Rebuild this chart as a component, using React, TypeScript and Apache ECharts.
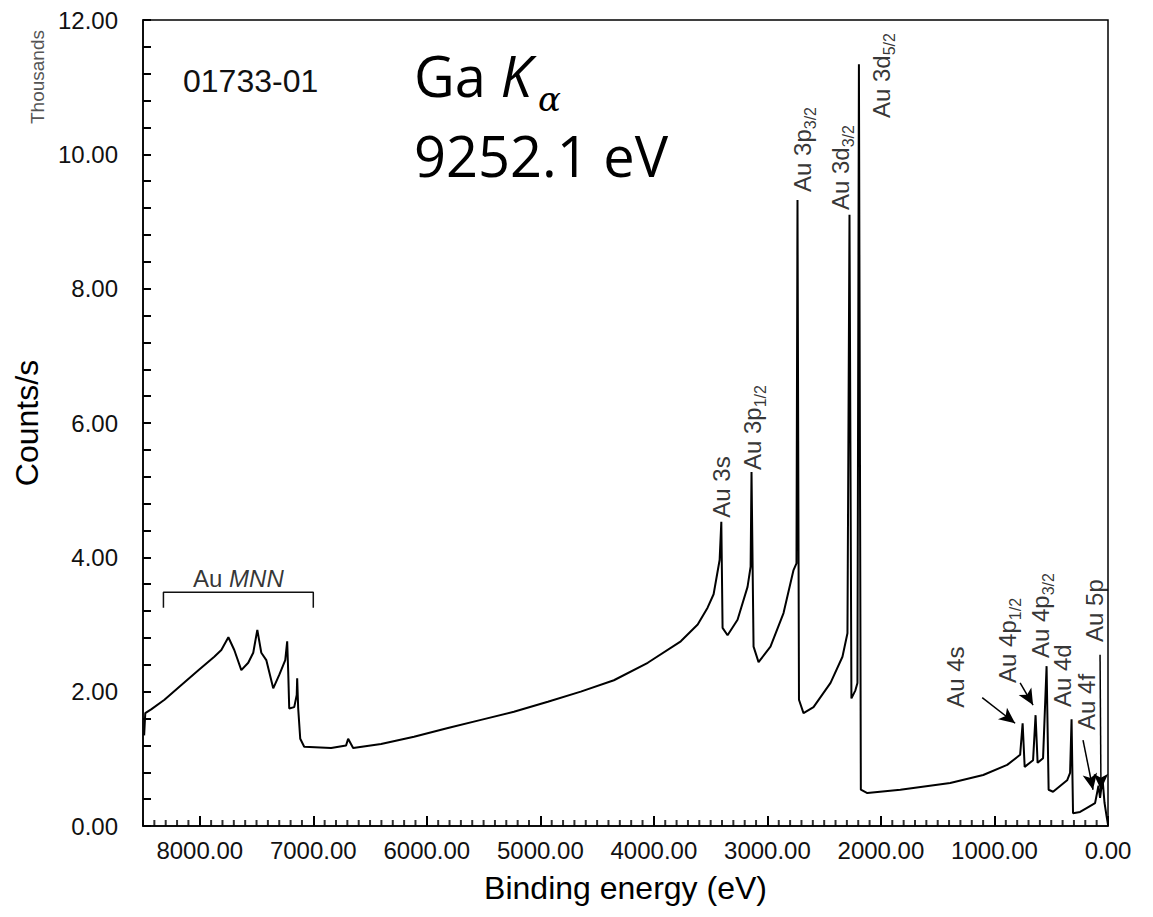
import React, { useEffect, useRef } from 'react';
import * as echarts from 'echarts';

// Binding energy (eV) and intensity (thousands of counts/s)
const energy = [
  8490, 8480, 8425, 8311, 8162, 8012, 7872, 7810, 7748, 7696,
  7634, 7573, 7529, 7493, 7458, 7414, 7353, 7300, 7247, 7230,
  7221, 7212, 7168, 7146, 7142, 7133, 7115, 7080, 6843, 6711,
  6693, 6649, 6403, 6113, 5814, 5523, 5233, 4934, 4644, 4352,
  4054, 3763, 3614, 3527, 3474, 3421, 3406, 3395, 3351, 3263,
  3175, 3148, 3140, 3122, 3078, 2973, 2858, 2770, 2744, 2735,
  2722, 2682, 2594, 2444, 2339, 2295, 2277, 2260, 2225, 2207,
  2194, 2177, 2120, 1829, 1390, 1099, 888, 774, 752, 734,
  660, 638, 620, 572, 541, 523, 484, 360, 334, 321,
  308, 246, 185, 114, 84, 70, 48, 31, 13, 0,
];
const counts = [
  1.35, 1.68, 1.74, 1.88, 2.10, 2.32, 2.52, 2.62, 2.81, 2.62,
  2.32, 2.43, 2.58, 2.92, 2.58, 2.47, 2.05, 2.25, 2.47, 2.75,
  2.30, 1.75, 1.77, 1.95, 2.20, 1.75, 1.30, 1.18, 1.16, 1.20,
  1.30, 1.16, 1.22, 1.33, 1.46, 1.58, 1.70, 1.85, 2.00, 2.17,
  2.43, 2.75, 3.00, 3.25, 3.45, 3.96, 4.53, 2.95, 2.84, 3.07,
  3.56, 3.86, 5.27, 2.67, 2.44, 2.67, 3.17, 3.81, 3.91, 9.32,
  1.88, 1.68, 1.77, 2.13, 2.52, 2.87, 9.10, 1.90, 2.02, 2.13,
  11.34, 0.54, 0.49, 0.54, 0.64, 0.76, 0.91, 1.06, 1.53, 0.88,
  0.98, 1.65, 0.94, 1.01, 2.38, 0.54, 0.51, 0.68, 0.79, 1.59,
  0.19, 0.21, 0.27, 0.34, 0.60, 0.42, 0.70, 0.35, 0.15, 0.02,
];

// Peak labels
const peakNames = ['Au 3s', 'Au 3p', 'Au 3p', 'Au 3d', 'Au 3d', 'Au 4s', 'Au 4p', 'Au 4p', 'Au 4d', 'Au 4f', 'Au 5p'];
const peakSubs = ['', '1/2', '3/2', '3/2', '5/2', '', '1/2', '3/2', '', '', ''];
const peakLabelX = [3404, 3131, 2691, 2357, 1996, 1346, 888, 598, 405, 193, 123];
const peakLabelY = [4.59, 5.30, 9.44, 9.17, 10.54, 1.76, 2.13, 2.50, 1.77, 1.43, 2.74];

// Leader arrows (start -> end)
const arrowFromX = [1108, 774, 220, 70];
const arrowFromY = [1.91, 2.13, 1.28, 2.55];
const arrowToX = [818, 660, 132, 62];
const arrowToY = [1.53, 1.80, 0.54, 0.54];

// Au MNN bracket
const mnnBracketX = [8320, 8320, 7000, 7000];
const mnnBracketY = [3.25, 3.48, 3.48, 3.25];
const mnnLabelPos = [7660, 3.69];

// Axis scales
const xMax = 8500;
const xMajor = 1000;
const xMinor = 100;
const yMax = 12;
const yMajor = 2;

const FONT = '"Liberation Sans", Arial, sans-serif';

function steps(max: number, step: number) {
  const out: number[] = [];
  const n = Math.round(max / step);
  for (let i = 0; i <= n; i++) out.push(+(i * step).toFixed(6));
  return out;
}

export default function App() {
  const ref = useRef<HTMLDivElement>(null);
  useEffect(() => {
    if (!ref.current) return;
    const chart = echarts.init(ref.current, null, { renderer: 'svg' });
    const spectrum = energy.map((e, i) => [e, counts[i]]);
    const labelData = peakNames.map((n, i) => ({
      value: [peakLabelX[i], peakLabelY[i]],
      label: {
        formatter: peakSubs[i] ? `{m|${n}}{s|${peakSubs[i]}}` : `{m|${n}}`,
      },
    }));
    const arrows = arrowFromX.map((_, i) => [
      { coord: [arrowFromX[i], arrowFromY[i]], symbol: 'none' },
      { coord: [arrowToX[i], arrowToY[i]], symbol: 'arrow' },
    ]);
    // minor ticks of the energy axis, every 100 eV, placed on the axis' own scale
    const xMinorTicks = steps(xMax, xMinor)
      .filter((v) => Math.round(v) % xMajor !== 0)
      .map((v) => [v, 0]);

    const option: any = {
      animation: false,
      backgroundColor: '#fff',
      grid: {
        left: 143, right: 45, top: 20, bottom: 91,
        show: true, borderColor: '#000', borderWidth: 1.5, backgroundColor: 'transparent',
      },
      xAxis: [{
        type: 'value', min: 0, max: xMax, interval: xMajor, inverse: true, position: 'bottom',
        name: 'Binding energy (eV)', nameLocation: 'middle', nameGap: 46,
        nameTextStyle: { fontSize: 32, color: '#000', fontFamily: FONT },
        axisLine: { show: true, onZero: false, lineStyle: { color: '#000', width: 1.5 } },
        axisTick: { show: true, inside: true, length: 10, lineStyle: { color: '#000', width: 2 } },
        axisLabel: {
          formatter: (v: number) => v.toFixed(2), showMaxLabel: false,
          fontSize: 24, color: '#111', margin: 12, fontFamily: FONT,
        },
        splitLine: { show: false },
      }],
      yAxis: [{
        type: 'value', min: 0, max: yMax, interval: yMajor, position: 'left',
        name: 'Counts/s', nameLocation: 'middle', nameGap: 100, nameRotate: 90,
        nameTextStyle: { fontSize: 32, color: '#000', fontFamily: FONT },
        axisLine: { show: true, onZero: false, lineStyle: { color: '#000', width: 1.5 } },
        axisTick: { show: true, inside: true, length: 8, lineStyle: { color: '#000', width: 2 } },
        minorTick: { show: true, splitNumber: 5, length: 8, lineStyle: { color: '#000', width: 2 } },
        axisLabel: {
          formatter: (v: number) => v.toFixed(2),
          fontSize: 24, color: '#111', margin: 25, fontFamily: FONT,
        },
        splitLine: { show: false },
      }],
      series: [
        {
          type: 'line', data: spectrum, showSymbol: false, symbol: 'none',
          lineStyle: { color: '#000', width: 2 },
          markLine: {
            silent: true, symbolSize: [11, 16],
            lineStyle: { color: '#000', width: 1.5, type: 'solid' },
            itemStyle: { color: '#000' },
            label: { show: false },
            data: arrows,
          },
        },
        {
          type: 'line', data: mnnBracketX.map((x, i) => [x, mnnBracketY[i]]),
          symbol: 'none', lineStyle: { color: '#111', width: 1.5 },
        },
        {
          type: 'scatter', data: xMinorTicks, symbol: 'rect', symbolSize: [2, 6], symbolOffset: [0, -3],
          silent: true, itemStyle: { color: '#000' },
        },
        {
          type: 'scatter', data: labelData, symbolSize: 1,
          itemStyle: { color: 'transparent' },
          label: {
            show: true, position: 'inside', rotate: 90, align: 'left', verticalAlign: 'middle',
            color: '#000',
            rich: {
              m: { fontSize: 24, lineHeight: 32, fontFamily: FONT, color: '#000' },
              s: { fontSize: 16, lineHeight: 16, fontFamily: FONT, color: '#000', verticalAlign: 'bottom' },
            },
          },
        },
        {
          type: 'scatter', data: [{ value: mnnLabelPos }], symbolSize: 1,
          itemStyle: { color: 'transparent' },
          label: {
            show: true, position: 'inside', formatter: '{a|Au }{b|MNN}',
            rich: {
              a: { fontSize: 24, fontFamily: FONT, color: '#000' },
              b: { fontSize: 24, fontFamily: FONT, color: '#000', fontStyle: 'italic' },
            },
          },
        },
      ],
      graphic: [
        {
          type: 'text', x: 37, y: 77, rotation: Math.PI / 2,
          style: { text: 'Thousands', fontSize: 19, fill: '#555', align: 'center', verticalAlign: 'middle', fontFamily: FONT },
        },
        {
          type: 'text', x: 183, y: 81,
          style: { text: '01733-01', fontSize: 32, fill: '#111', align: 'left', verticalAlign: 'middle', fontFamily: FONT },
        },
        {
          type: 'text', x: 414, y: 75,
          style: {
            text: '{n|Ga }{i|K}', align: 'left', verticalAlign: 'middle',
            rich: {
              n: { fontSize: 56, fontFamily: '"Open Sans", sans-serif', fill: '#000' },
              i: { fontSize: 56, fontFamily: '"Open Sans", sans-serif', fontStyle: 'italic', fill: '#000' },
            },
          },
        },
        {
          type: 'text', x: 538, y: 99,
          style: { text: 'α', fontSize: 34, fontStyle: 'italic', fontFamily: '"DejaVu Serif", serif', fill: '#000', align: 'left', verticalAlign: 'middle' },
        },
        {
          type: 'text', x: 414, y: 155,
          style: { text: '9252.1 eV', fontSize: 56, fontFamily: '"Open Sans", sans-serif', fill: '#000', align: 'left', verticalAlign: 'middle' },
        },
      ],
    };
    chart.setOption(option);
    return () => chart.dispose();
  }, []);
  return <div ref={ref} style={{ position: 'absolute', left: 0, top: 0, width: 1153, height: 917 }} />;
}
